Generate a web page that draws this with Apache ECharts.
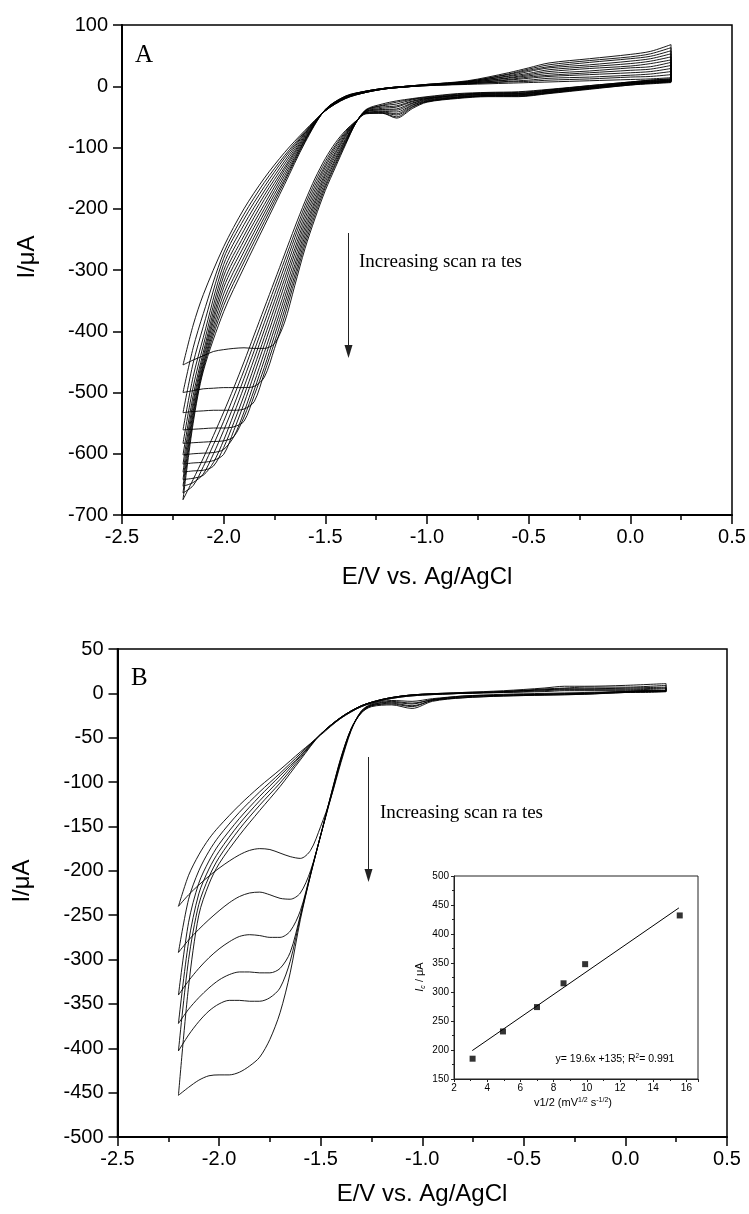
<!DOCTYPE html>
<html><head><meta charset="utf-8">
<script src="https://cdn.jsdelivr.net/npm/echarts/dist/echarts.min.js"></script>
<style>html,body{margin:0;padding:0;background:#fff}#c{width:749px;height:1214px}</style>
</head><body><div id="c"></div><script>
// ---------- Panel A : potential grids ----------
const A_Ef = [0.2,0.1,0.0,-0.2,-0.4,-0.55,-0.7,-0.85,-1.0,-1.07,-1.15,-1.22,-1.3,-1.35,-1.4,-1.45,-1.5,-1.55,-1.6,-1.65,-1.7,-1.75,-1.8,-1.85,-1.9,-1.95,-2.0,-2.05,-2.1,-2.15,-2.2];
const A_Er = [-2.15,-2.1,-2.0,-1.9,-1.8,-1.7,-1.6,-1.5,-1.4,-1.3,-1.2,-1.1,-1.0,-0.8,-0.6,-0.5,-0.4,-0.2,0.0,0.1,0.2];
// forward (cathodic) scans, current in uA
const A_f0  = [12,10,7,1,-5,-9,-10,-12,-17,-20,-24,-29,-38,-60,-95,-132,-170,-215,-265,-325,-385,-420,-428,-428,-427,-428,-430,-433,-440,-447,-455];
const A_f1  = [12,10,7,1,-6,-10,-11,-13,-18,-21,-26,-31,-39,-60,-93,-128,-165,-209,-258,-316,-375,-428,-475,-490,-492,-492,-492,-493,-494,-497,-500];
const A_f2  = [11,9,6,0,-6,-11,-11,-14,-19,-22,-29,-32,-39,-60,-91,-125,-161,-203,-251,-308,-365,-418,-468,-515,-527,-529,-529,-529,-530,-531,-533];
const A_f3  = [10,8,6,-1,-7,-12,-12,-15,-20,-24,-32,-34,-40,-59,-89,-121,-156,-197,-244,-299,-355,-407,-459,-505,-547,-556,-558,-558,-559,-560,-561];
const A_f4  = [10,8,5,-1,-8,-12,-13,-15,-20,-25,-34,-36,-41,-59,-87,-118,-151,-191,-237,-291,-345,-396,-447,-496,-540,-572,-579,-580,-581,-582,-583];
const A_f5  = [9,7,5,-2,-8,-13,-13,-16,-21,-27,-37,-38,-41,-59,-85,-114,-146,-186,-230,-282,-335,-385,-435,-484,-532,-572,-593,-598,-599,-600,-602];
const A_f6  = [9,7,4,-2,-9,-14,-14,-17,-22,-28,-39,-39,-42,-58,-82,-110,-142,-180,-223,-273,-324,-373,-422,-470,-518,-562,-601,-611,-614,-615,-617];
const A_f7  = [8,6,4,-3,-10,-14,-15,-18,-23,-30,-42,-41,-43,-58,-80,-107,-137,-174,-216,-265,-314,-362,-410,-458,-505,-549,-590,-620,-627,-628,-630];
const A_f8  = [8,6,3,-3,-10,-15,-15,-18,-24,-31,-45,-42,-43,-58,-78,-103,-132,-168,-209,-256,-304,-351,-398,-445,-491,-535,-578,-614,-635,-640,-642];
const A_f9  = [7,5,3,-4,-11,-16,-16,-19,-25,-33,-47,-43,-44,-58,-76,-99,-128,-162,-202,-247,-294,-340,-386,-432,-477,-521,-562,-600,-633,-647,-653];
const A_f10 = [7,5,2,-4,-11,-16,-16,-19,-25,-34,-50,-44,-44,-57,-74,-96,-123,-156,-195,-239,-284,-329,-374,-419,-464,-506,-547,-585,-621,-652,-664];
const A_f11 = [6,4,2,-5,-12,-17,-17,-20,-26,-36,-52,-44,-45,-57,-72,-92,-118,-150,-188,-230,-274,-318,-362,-406,-450,-492,-532,-570,-607,-642,-675];
// reverse (anodic) scans
const A_r0  = [-390,-340,-262,-200,-150,-108,-72,-40,-20,-10,-4,-1,1,3,5,6,7,9,11,12,14];
const A_r1  = [-427,-371,-272,-209,-157,-113,-74,-40,-20,-10,-4,-1,1,4,7,8,10,12,15,16,19];
const A_r2  = [-452,-392,-281,-217,-164,-117,-76,-40,-19,-10,-4,-1,1,4,8,10,13,15,18,20,24];
const A_r3  = [-474,-410,-291,-226,-171,-122,-77,-40,-19,-10,-4,-1,2,5,10,13,16,19,22,24,29];
const A_r4  = [-491,-423,-301,-235,-178,-127,-79,-39,-19,-9,-4,-1,2,5,11,15,18,22,26,28,34];
const A_r5  = [-505,-434,-310,-244,-185,-132,-81,-39,-18,-9,-4,-1,2,6,13,17,21,25,30,32,39];
const A_r6  = [-515,-441,-320,-252,-193,-136,-83,-39,-18,-9,-3,0,2,6,14,19,24,29,33,37,43];
const A_r7  = [-523,-447,-329,-261,-200,-141,-85,-39,-17,-9,-3,0,2,7,16,21,27,32,37,41,48];
const A_r8  = [-531,-453,-339,-270,-207,-146,-87,-38,-17,-8,-3,0,2,7,17,24,30,35,41,45,53];
const A_r9  = [-537,-457,-349,-279,-214,-151,-88,-38,-17,-8,-3,0,3,8,19,26,32,39,45,49,58];
const A_r10 = [-544,-461,-358,-287,-221,-155,-90,-38,-16,-8,-3,0,3,8,20,28,35,42,48,53,63];
const A_r11 = [-550,-465,-368,-296,-228,-160,-92,-38,-16,-8,-3,0,3,9,22,30,38,45,52,57,68];

// ---------- Panel B ----------
const B_Ef = [0.2,0.1,0.0,-0.2,-0.4,-0.6,-0.8,-0.95,-1.05,-1.15,-1.25,-1.3,-1.35,-1.4,-1.45,-1.5,-1.55,-1.6,-1.65,-1.7,-1.75,-1.8,-1.85,-1.9,-1.95,-2.0,-2.05,-2.1,-2.15,-2.2];
const B_Er = [-2.15,-2.1,-2.05,-2.0,-1.9,-1.8,-1.7,-1.6,-1.5,-1.4,-1.3,-1.2,-1.1,-1.0,-0.8,-0.6,-0.4,-0.3,-0.2,0.0,0.2];
const B_f0 = [3,3,2,1,0,-1,-3,-6,-9,-8,-12,-20,-42,-78,-118,-150,-177,-186,-184,-180,-176,-175,-177,-182,-189,-197,-206,-216,-227,-240];
const B_f1 = [3,3,2,0,-1,-2,-3,-7,-11,-9,-13,-20,-41,-76,-118,-160,-200,-225,-232,-231,-227,-224,-225,-229,-236,-245,-255,-266,-278,-292];
const B_f2 = [3,2,2,0,-1,-2,-4,-7,-12,-10,-13,-21,-41,-75,-117,-160,-203,-245,-268,-275,-275,-273,-272,-274,-280,-288,-298,-310,-324,-340];
const B_f3 = [2,2,1,0,-1,-2,-4,-8,-14,-11,-14,-21,-40,-74,-116,-160,-204,-250,-292,-310,-315,-315,-314,-314,-317,-323,-332,-343,-356,-372];
const B_f4 = [2,2,1,-1,-2,-3,-5,-8,-15,-12,-14,-22,-40,-73,-115,-160,-205,-252,-302,-332,-343,-347,-347,-346,-346,-350,-358,-370,-385,-403];
const B_f5 = [2,1,1,-1,-2,-3,-5,-9,-17,-13,-15,-22,-40,-72,-115,-160,-205,-255,-315,-360,-390,-410,-420,-427,-430,-430,-431,-436,-444,-453];
const B_r0 = [-205,-182,-164,-150,-126,-105,-86,-66,-47,-28,-15,-8,-4,-2,0,1,2,3,3,3,3];
const B_r1 = [-232,-200,-178,-161,-134,-111,-90,-68,-46,-28,-15,-8,-4,-2,0,1,3,4,4,4,5];
const B_r2 = [-258,-214,-189,-170,-141,-116,-93,-70,-46,-27,-14,-7,-3,-1,0,2,4,5,5,5,6];
const B_r3 = [-280,-226,-198,-178,-147,-121,-97,-71,-46,-27,-14,-7,-3,-1,0,2,4,5,5,6,7];
const B_r4 = [-300,-238,-207,-185,-153,-126,-101,-73,-46,-27,-14,-7,-3,-1,1,2,5,6,7,7,9];
const B_r5 = [-330,-250,-215,-192,-160,-132,-105,-75,-46,-27,-14,-7,-3,-1,1,3,6,8,8,9,11];

// ---------- Inset ----------
const inset_x = [3.12, 4.95, 7.0, 8.6, 9.9, 15.6];
const inset_y = [185, 232, 274, 315, 348, 432];
const fit_x = [3.1, 15.55];
const fit_y = [199, 445];

// axis ranges
const A_x = {min:-2.5, max:0.5, step:0.5};
const A_y = {min:-700, max:100, step:100};
const B_y = {min:-500, max:50, step:50};
const In_x = {min:2, max:16.7, step:2};
const In_y = {min:150, max:500, step:50};

function loop(Ef, If, Er, Ir){
  const d=[];
  for(let i=0;i<Ef.length;i++) d.push([Ef[i], If[i]]);
  for(let j=0;j<Er.length;j++) d.push([Er[j], Ir[j]]);
  d.push([Ef[0], If[0]]);
  return d;
}
const SANS='Liberation Sans';
const SERIF='Liberation Serif';

const series=[];
const Af=[A_f0,A_f1,A_f2,A_f3,A_f4,A_f5,A_f6,A_f7,A_f8,A_f9,A_f10,A_f11];
const Ar=[A_r0,A_r1,A_r2,A_r3,A_r4,A_r5,A_r6,A_r7,A_r8,A_r9,A_r10,A_r11];
Af.forEach((f,i)=>series.push({type:'line',xAxisIndex:0,yAxisIndex:0,data:loop(A_Ef,f,A_Er,Ar[i]),
  showSymbol:false,smooth:0.3,lineStyle:{color:'#000',width:0.9},silent:true}));
const Bf=[B_f0,B_f1,B_f2,B_f3,B_f4,B_f5];
const Br=[B_r0,B_r1,B_r2,B_r3,B_r4,B_r5];
Bf.forEach((f,i)=>series.push({type:'line',xAxisIndex:1,yAxisIndex:1,data:loop(B_Ef,f,B_Er,Br[i]),
  showSymbol:false,smooth:0.3,lineStyle:{color:'#000',width:0.9},silent:true}));
series.push({type:'line',xAxisIndex:2,yAxisIndex:2,data:fit_x.map((x,i)=>[x,fit_y[i]]),showSymbol:false,
  lineStyle:{color:'#000',width:1},silent:true});
series.push({type:'scatter',xAxisIndex:2,yAxisIndex:2,data:inset_x.map((x,i)=>[x,inset_y[i]]),symbol:'rect',symbolSize:6,
  itemStyle:{color:'#000'},silent:true,z:5});

function mainX(grid){
  return {type:'value',gridIndex:grid,min:A_x.min,max:A_x.max,interval:A_x.step,
    axisLine:{show:true,onZero:false,lineStyle:{color:'#000',width:2}},
    axisTick:{show:true,inside:false,length:9,lineStyle:{color:'#000',width:1.5}},
    minorTick:{show:true,splitNumber:2,length:5,lineStyle:{color:'#000',width:1.5}},
    splitLine:{show:false},
    axisLabel:{color:'#000',fontFamily:SANS,fontSize:20,margin:12,formatter:v=>v.toFixed(1)}};
}
function mainY(grid,r){
  return {type:'value',gridIndex:grid,min:r.min,max:r.max,interval:r.step,
    axisLine:{show:true,onZero:false,lineStyle:{color:'#000',width:2}},
    axisTick:{show:true,inside:false,length:9,lineStyle:{color:'#000',width:1.5}},
    splitLine:{show:false},
    axisLabel:{color:'#000',fontFamily:SANS,fontSize:20,margin:14}};
}

const option={
  animation:false,
  backgroundColor:'#fff',
  grid:[
    {left:122,top:25,width:610,height:490,show:true,borderColor:'#000',borderWidth:1.5},
    {left:117.5,top:649,width:609.5,height:488,show:true,borderColor:'#000',borderWidth:1.5},
    {left:454,top:876,width:244,height:203,show:true,borderColor:'#222',borderWidth:1,backgroundColor:'#fff'}
  ],
  xAxis:[mainX(0),mainX(1),
    {type:'value',gridIndex:2,min:In_x.min,max:In_x.max,interval:In_x.step,
     axisLine:{show:true,onZero:false,lineStyle:{color:'#222',width:1}},
     axisTick:{show:true,inside:false,length:3,lineStyle:{color:'#222'}},
     minorTick:{show:true,splitNumber:2,length:2,lineStyle:{color:'#222'}},
     splitLine:{show:false},
     axisLabel:{color:'#000',fontFamily:SANS,fontSize:10,margin:4,showMaxLabel:false}}],
  yAxis:[mainY(0,A_y),mainY(1,B_y),
    {type:'value',gridIndex:2,min:In_y.min,max:In_y.max,interval:In_y.step,
     axisLine:{show:true,onZero:false,lineStyle:{color:'#222',width:1}},
     axisTick:{show:true,inside:false,length:3,lineStyle:{color:'#222'}},
     minorTick:{show:true,splitNumber:2,length:2,lineStyle:{color:'#222'}},
     splitLine:{show:false},
     axisLabel:{color:'#000',fontFamily:SANS,fontSize:10,margin:5}}],
  series:series,
  graphic:[
    {type:'text',x:135,y:55,style:{text:'A',fontFamily:SERIF,fontSize:25,fill:'#000',align:'left',verticalAlign:'middle'}},
    {type:'text',x:131,y:678,style:{text:'B',fontFamily:SERIF,fontSize:25,fill:'#000',align:'left',verticalAlign:'middle'}},
    {type:'text',x:359,y:262,style:{text:'Increasing scan ra tes',fontFamily:SERIF,fontSize:19,fill:'#000',align:'left',verticalAlign:'middle'}},
    {type:'text',x:380,y:813,style:{text:'Increasing scan ra tes',fontFamily:SERIF,fontSize:19,fill:'#000',align:'left',verticalAlign:'middle'}},
    {type:'line',shape:{x1:348.5,y1:233,x2:348.5,y2:347},style:{stroke:'#222',lineWidth:1}},
    {type:'polygon',shape:{points:[[344.5,345],[352.5,345],[348.5,358]]},style:{fill:'#222'}},
    {type:'line',shape:{x1:368.5,y1:757,x2:368.5,y2:871},style:{stroke:'#222',lineWidth:1}},
    {type:'polygon',shape:{points:[[364.5,869],[372.5,869],[368.5,882]]},style:{fill:'#222'}},
    {type:'text',x:27,y:257,rotation:Math.PI/2,style:{text:'I/μA',fontFamily:SANS,fontSize:24,fill:'#000',align:'center',verticalAlign:'middle'}},
    {type:'text',x:427,y:577,style:{text:'E/V vs. Ag/AgCl',fontFamily:SANS,fontSize:24,fill:'#000',align:'center',verticalAlign:'middle'}},
    {type:'text',x:22,y:881,rotation:Math.PI/2,style:{text:'I/μA',fontFamily:SANS,fontSize:24,fill:'#000',align:'center',verticalAlign:'middle'}},
    {type:'text',x:422,y:1194,style:{text:'E/V vs. Ag/AgCl',fontFamily:SANS,fontSize:24,fill:'#000',align:'center',verticalAlign:'middle'}},
    {type:'text',x:420,y:977,rotation:Math.PI/2,style:{text:'{i|I}{s|c}{n| / μA}',fill:'#000',align:'center',verticalAlign:'middle',
      rich:{i:{fontFamily:SANS,fontStyle:'italic',fontSize:11},s:{fontFamily:SANS,fontStyle:'italic',fontSize:7,padding:[6,0,0,0]},n:{fontFamily:SANS,fontSize:11}}}},
    {type:'text',x:573,y:1103,style:{text:'{n|v1/2 (mV}{p|1/2}{n| s}{p|-1/2}{n|)}',fill:'#000',align:'center',verticalAlign:'middle',
      rich:{n:{fontFamily:SANS,fontSize:11},p:{fontFamily:SANS,fontSize:7,padding:[0,0,6,0]}}}},
    {type:'text',x:615,y:1059,style:{text:'{n|y= 19.6x +135; R}{p|2}{n|= 0.991}',fill:'#000',align:'center',verticalAlign:'middle',
      rich:{n:{fontFamily:SANS,fontSize:10.5},p:{fontFamily:SANS,fontSize:6.5,padding:[0,0,6,0]}}}}
  ]
};
const chart=echarts.init(document.getElementById('c'),null,{renderer:'canvas'});
chart.setOption(option);
</script></body></html>
